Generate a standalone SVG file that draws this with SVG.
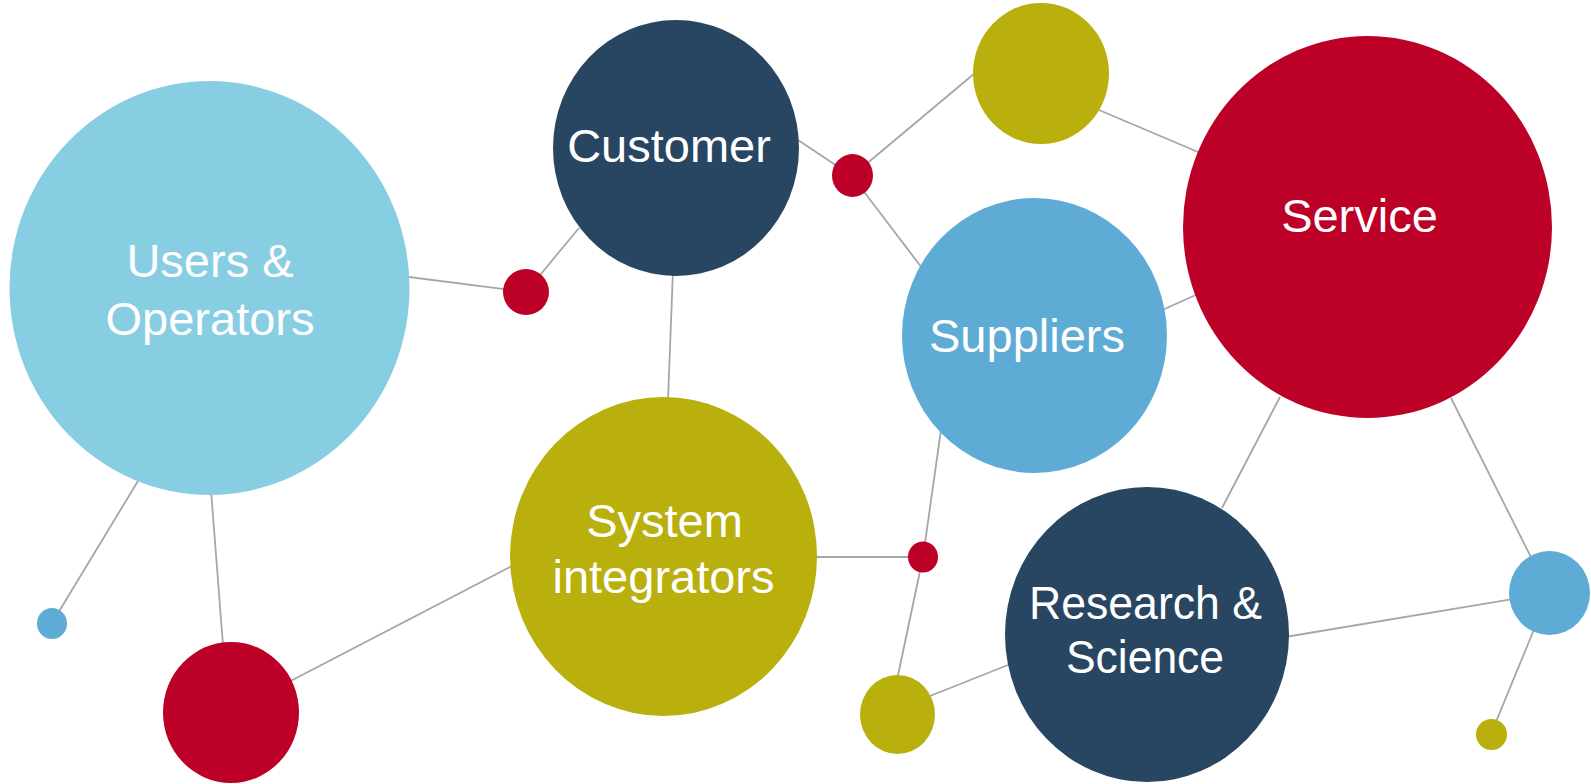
<svg xmlns="http://www.w3.org/2000/svg" width="1591" height="784" viewBox="0 0 1591 784">
<style>
.c{stroke:#A6A6A6;stroke-width:1.8;fill:none}
.t{font-family:"Liberation Sans",Arial,sans-serif;font-size:47px;fill:#FFFFFF;text-anchor:middle}
.lb{fill:#88CEE3}.nv{fill:#284561}.ol{fill:#B9B00D}.rd{fill:#BD0027}.bl{fill:#5EACD6}
</style>
<rect width="1591" height="784" fill="#FFFFFF"/>
<g id="connectors">
<line class="c" x1="409" y1="277" x2="526" y2="292"/>
<line class="c" x1="526" y1="292" x2="579" y2="228"/>
<line class="c" x1="673" y1="270" x2="668" y2="400"/>
<line class="c" x1="795" y1="138" x2="852" y2="176"/>
<line class="c" x1="852" y1="176" x2="975" y2="73"/>
<line class="c" x1="852" y1="176" x2="922" y2="268"/>
<line class="c" x1="1099" y1="110" x2="1198" y2="152"/>
<line class="c" x1="1160" y1="311" x2="1198" y2="294"/>
<line class="c" x1="815" y1="557" x2="923" y2="557"/>
<line class="c" x1="923" y1="557" x2="941" y2="430"/>
<line class="c" x1="923" y1="557" x2="897" y2="680"/>
<line class="c" x1="930" y1="696" x2="1008" y2="665"/>
<line class="c" x1="1280" y1="397" x2="1222" y2="508"/>
<line class="c" x1="1451" y1="398" x2="1549" y2="593"/>
<line class="c" x1="1285" y1="637" x2="1549" y2="593"/>
<line class="c" x1="1549" y1="593" x2="1491" y2="734"/>
<line class="c" x1="138" y1="481" x2="52" y2="623"/>
<line class="c" x1="211" y1="490" x2="223" y2="645"/>
<line class="c" x1="231" y1="712" x2="512" y2="566"/>
</g>
<g id="users-operators"><ellipse class="lb" cx="209.5" cy="288" rx="200" ry="207"/><text class="t" x="210" y="277">Users &amp;</text><text class="t" x="210" y="335">Operators</text></g>
<g id="customer"><ellipse class="nv" cx="676" cy="148" rx="123" ry="128"/><text class="t" x="669" y="162">Customer</text></g>
<g id="system-integrators"><ellipse class="ol" cx="663.5" cy="556.5" rx="153.5" ry="159.5"/><text class="t" x="664.5" y="537">System</text><text class="t" x="663.5" y="593">integrators</text></g>
<g id="suppliers"><ellipse class="bl" cx="1034.5" cy="335.5" rx="132.5" ry="137.5"/><text class="t" x="1027" y="352">Suppliers</text></g>
<g id="service"><ellipse class="rd" cx="1367.5" cy="227" rx="184.5" ry="191"/><text class="t" x="1359.5" y="232">Service</text></g>
<g id="research-science"><ellipse class="nv" cx="1147" cy="634.5" rx="142" ry="147.5"/><text class="t" x="1145.5" y="619" textLength="233" lengthAdjust="spacingAndGlyphs">Research &amp;</text><text class="t" x="1145" y="673" textLength="158" lengthAdjust="spacingAndGlyphs">Science</text></g>
<g id="dot-red-1"><ellipse class="rd" cx="526" cy="292" rx="23" ry="23"/></g>
<g id="dot-red-2"><ellipse class="rd" cx="852.5" cy="175.5" rx="20.5" ry="21.5"/></g>
<g id="dot-olive-top"><ellipse class="ol" cx="1041" cy="73.5" rx="68" ry="70.5"/></g>
<g id="dot-red-3"><ellipse class="rd" cx="923" cy="557" rx="15" ry="15.5"/></g>
<g id="dot-olive-bottom"><ellipse class="ol" cx="897.5" cy="714.5" rx="37.5" ry="39.5"/></g>
<g id="dot-blue-right"><ellipse class="bl" cx="1549.5" cy="593" rx="40.5" ry="42"/></g>
<g id="dot-olive-tiny"><ellipse class="ol" cx="1491.5" cy="734.5" rx="15.5" ry="15.5"/></g>
<g id="dot-blue-left"><ellipse class="bl" cx="52" cy="623.5" rx="15" ry="15.5"/></g>
<g id="dot-red-bottom"><ellipse class="rd" cx="231" cy="712.5" rx="68" ry="70.5"/></g>
</svg>
